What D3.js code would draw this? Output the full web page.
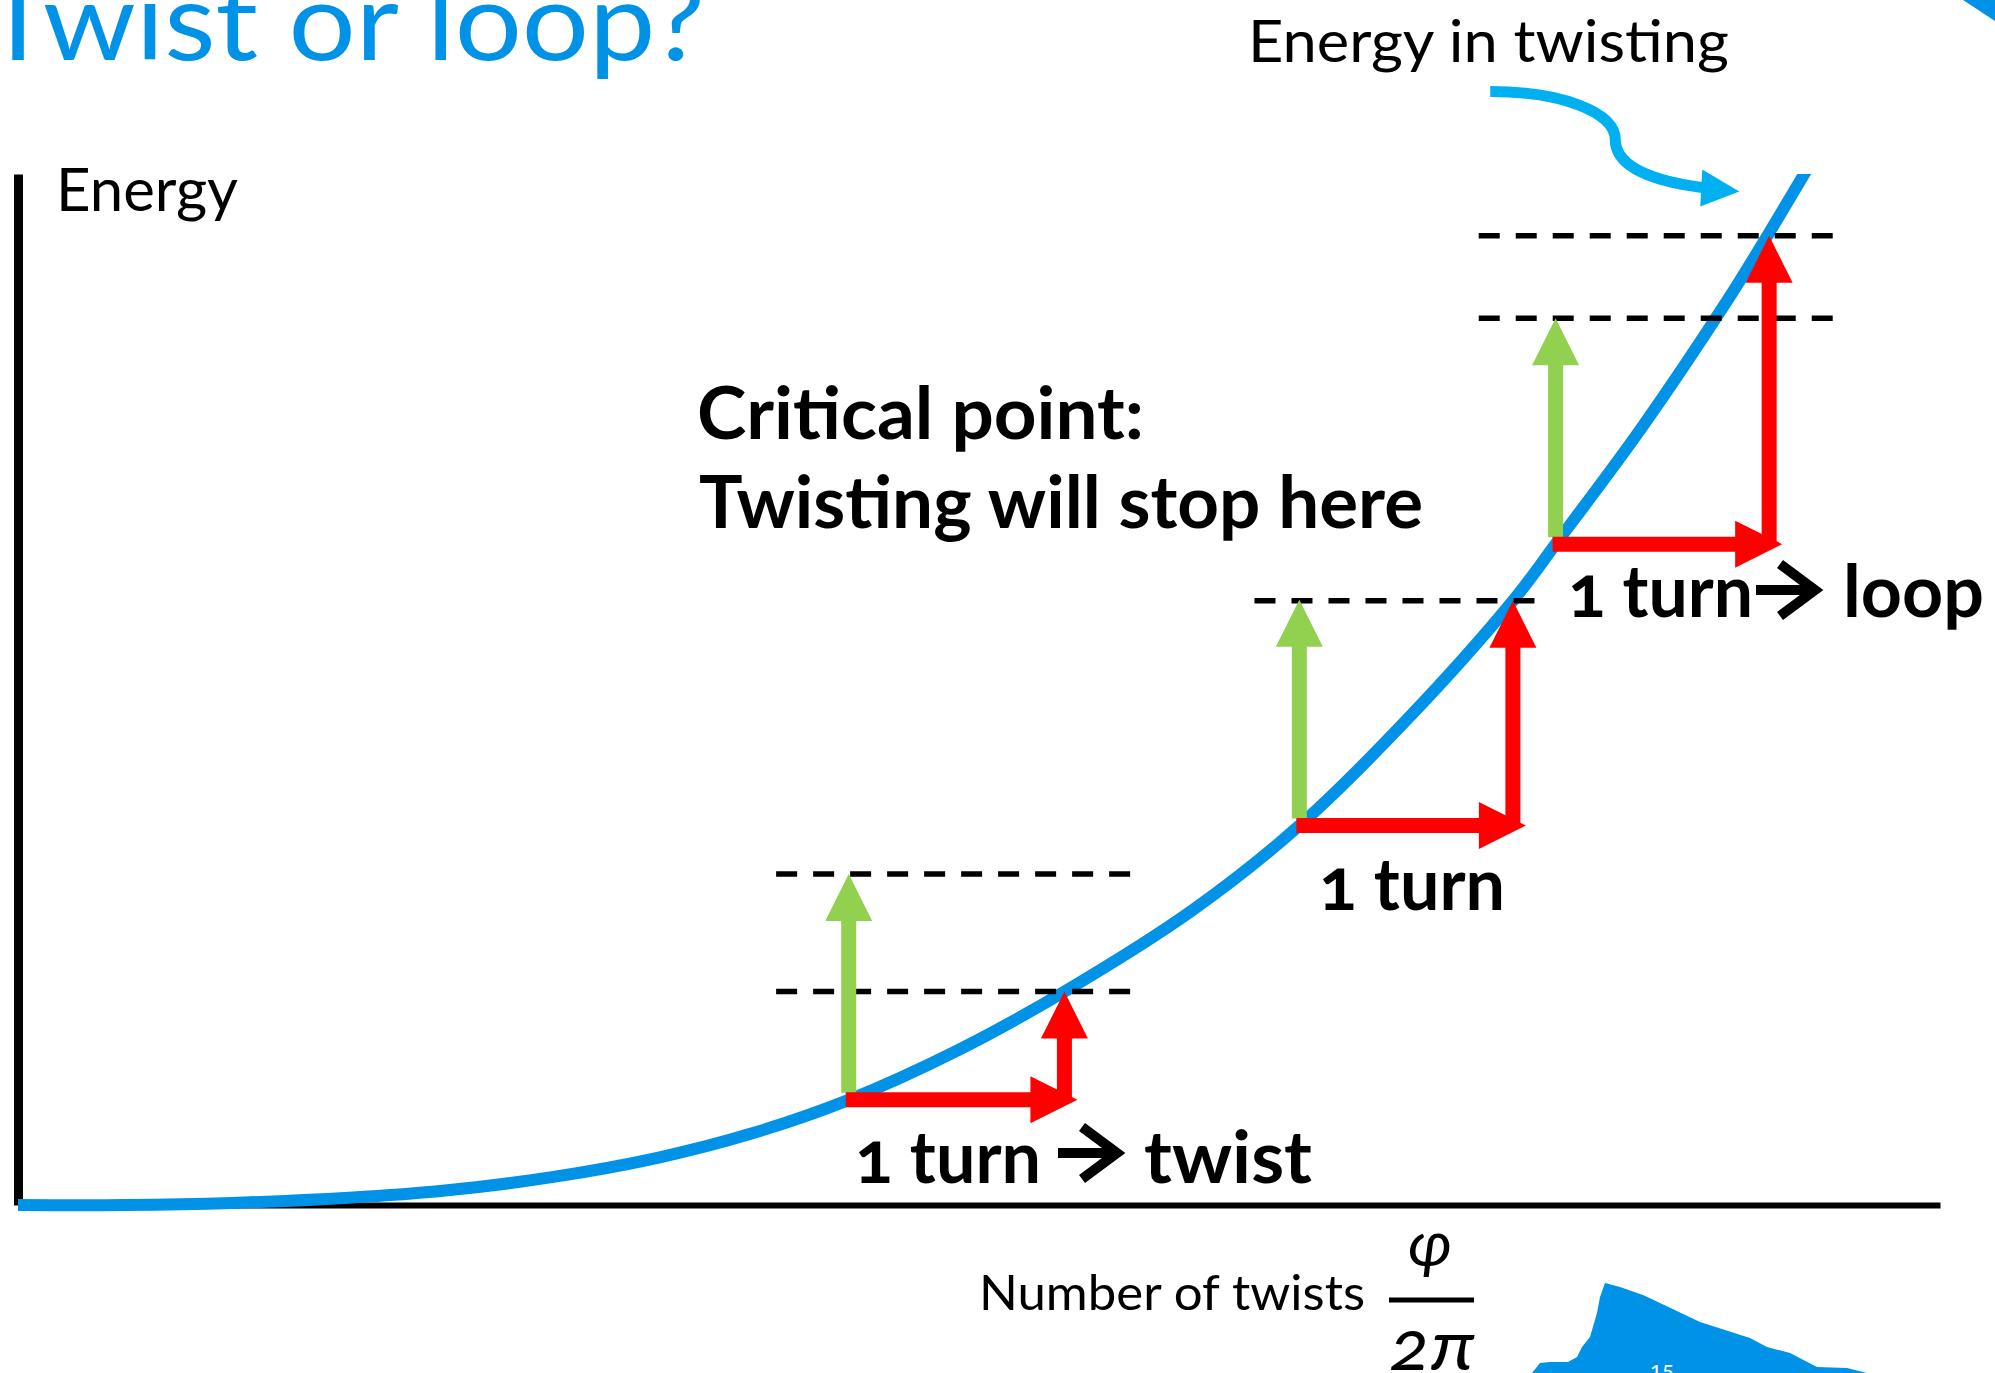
<!DOCTYPE html>
<html>
<head>
<meta charset="utf-8">
<script src="https://cdn.jsdelivr.net/npm/d3@7"></script>
<style>
  html, body { margin: 0; padding: 0; background: #fff; overflow: hidden; }
  svg { display: block; }
  text { font-family: Lato, "Open Sans", sans-serif; font-variant-numeric: oldstyle-nums; }
</style>
</head>
<body>
<svg id="chart" width="1995" height="1373"></svg>
<script>
// Twist energy against the number of turns put into the rod
const curveTurns  = [0, 0.5, 1, 1.55, 2, 2.5, 3, 3.43, 3.89, 4.4, 4.9, 5.5, 6, 6.5, 7, 7.2, 7.6, 8, 8.2, 8.45];
const curveEnergy = [0, 0.0, 0.02, 0.07, 0.14, 0.27, 0.46, 0.69, 1.02, 1.5, 2.07, 2.86, 3.68, 4.7, 5.86, 6.41, 7.53, 8.76, 9.43, 10.3];

// One extra turn taken at three places along the curve
const stepStart       = [3.89, 6, 7.2];
const stepEnd         = [4.9, 7, 8.2];
const stepEnergyStart = [1.02, 3.68, 6.41];
const stepEnergyEnd   = [2.07, 5.86, 9.4];
// Energy cost of forming a loop instead (same at every step)
const loopEnergy = 2.19;
// Horizontal extent of the dashed energy levels around each step
const guideFrom = [3.55, 5.79, 6.84];
const guideTo   = [5.21, 7.11, 8.51];

const xDomain = [0, 9];
const yDomain = [0, 10];

const W = 1995, H = 1373;
const svg = d3.select("#chart");

const x = d3.scaleLinear().domain(xDomain).range([18, 1940]);
const y = d3.scaleLinear().domain(yDomain).range([1205, 174]);

const BLUE = "#0092E6", RED = "#FF0000", GREEN = "#92D050", LIGHT = "#00B0F0";

// slide decoration
svg.append("path")
  .attr("d", "M1963,0 L1995,0 L1995,21 Z")
  .attr("fill", BLUE);
svg.append("path")
  .attr("d", "M1532,1373 L1540,1363 L1550,1362 L1568,1362 L1577,1357 L1582,1347 L1590,1337 L1597,1313 L1600,1297 L1605,1283 L1620,1287 L1643,1295 L1660,1303 L1700,1322 L1750,1338 L1767,1347 L1790,1353 L1817,1367 L1847,1368 L1867,1373 Z")
  .attr("fill", BLUE);
svg.append("text")
  .attr("x", 1650).attr("y", 1377)
  .attr("font-size", 22).attr("fill", "#fff")
  .text("15");

// title
svg.append("text")
  .attr("x", -17).attr("y", 60)
  .attr("font-size", 108).attr("fill", BLUE)
  .attr("textLength", 722).attr("lengthAdjust", "spacingAndGlyphs")
  .text("Twist or loop?");

// axes without ticks
const xAxis = svg.append("g")
  .attr("transform", `translate(0,${y(0)})`)
  .call(d3.axisBottom(x).tickValues([]).tickSizeOuter(0));
xAxis.select(".domain").attr("stroke", "#000").attr("stroke-width", 6);

const yAxis = svg.append("g")
  .attr("transform", `translate(${x(0)},0)`)
  .call(d3.axisLeft(y).tickValues([]).tickSizeOuter(0));
yAxis.select(".domain").attr("stroke", "#000").attr("stroke-width", 9);

svg.append("text")
  .attr("x", 56).attr("y", 211)
  .attr("font-size", 60).attr("fill", "#000")
  .attr("textLength", 182).attr("lengthAdjust", "spacingAndGlyphs")
  .text("Energy");

// x label with the fraction phi / 2pi
svg.append("text")
  .attr("x", 979).attr("y", 1310)
  .attr("font-size", 49).attr("fill", "#000")
  .attr("textLength", 386).attr("lengthAdjust", "spacingAndGlyphs")
  .text("Number of twists");
svg.append("line")
  .attr("x1", 1389).attr("x2", 1474).attr("y1", 1300).attr("y2", 1300)
  .attr("stroke", "#000").attr("stroke-width", 5);
svg.append("text")
  .attr("x", 1430).attr("y", 1266)
  .attr("text-anchor", "middle")
  .attr("font-family", "'Liberation Serif', 'DejaVu Serif', serif")
  .attr("font-style", "italic")
  .attr("font-size", 64).attr("fill", "#000")
  .text("φ");
svg.append("text")
  .attr("x", 1389).attr("y", 1370)
  .attr("font-family", "'Liberation Serif', 'DejaVu Serif', serif")
  .attr("font-style", "italic")
  .attr("font-size", 70).attr("fill", "#000")
  .attr("textLength", 86).attr("lengthAdjust", "spacingAndGlyphs")
  .text("2π");

// energy curve, clipped to the plot area
svg.append("clipPath").attr("id", "plotClip")
  .append("rect")
  .attr("x", 0).attr("y", y(yDomain[1]))
  .attr("width", W).attr("height", H);

const curveData = curveTurns.map((t, i) => ({ t, e: curveEnergy[i] }));
const line = d3.line()
  .x(d => x(d.t))
  .y(d => y(d.e))
  .curve(d3.curveCatmullRom.alpha(0.5));

svg.append("path")
  .datum(curveData)
  .attr("clip-path", "url(#plotClip)")
  .attr("d", line)
  .attr("fill", "none")
  .attr("stroke", BLUE)
  .attr("stroke-width", 12)
  .attr("stroke-linecap", "butt");

// dashed energy levels: after one turn of twist and after forming a loop
const guides = [];
stepStart.forEach((t0, i) => {
  const levels = [stepEnergyEnd[i], stepEnergyStart[i] + loopEnergy];
  const uniq = [];
  levels.forEach(l => { if (!uniq.some(u => Math.abs(u - l) < 0.05)) uniq.push(l); });
  uniq.forEach(l => guides.push({ from: guideFrom[i], to: guideTo[i], e: l }));
});
svg.append("g").selectAll("line")
  .data(guides)
  .join("line")
  .attr("x1", d => x(d.from)).attr("x2", d => x(d.to))
  .attr("y1", d => y(d.e)).attr("y2", d => y(d.e))
  .attr("stroke", "#000")
  .attr("stroke-width", 5.5)
  .attr("stroke-dasharray", "21,16");

// block arrow outline from (x1,y1) to tip (x2,y2)
function arrowPoints(x1, y1, x2, y2, sw = 15, hw = 47, hl = 47) {
  const dx = x2 - x1, dy = y2 - y1, L = Math.hypot(dx, dy);
  const ux = dx / L, uy = dy / L, nx = -uy, ny = ux;
  const bx = x2 - ux * hl, by = y2 - uy * hl;
  return [
    [x1 + nx * sw / 2, y1 + ny * sw / 2],
    [bx + nx * sw / 2, by + ny * sw / 2],
    [bx + nx * hw / 2, by + ny * hw / 2],
    [x2, y2],
    [bx - nx * hw / 2, by - ny * hw / 2],
    [bx - nx * sw / 2, by - ny * sw / 2],
    [x1 - nx * sw / 2, y1 - ny * sw / 2]
  ].map(p => p.join(",")).join(" ");
}

const steps = stepStart.map((t0, i) => ({
  t0, t1: stepEnd[i], e0: stepEnergyStart[i], e1: stepEnergyEnd[i]
}));
const arrows = svg.append("g");
// loop option: energy rises by the constant loop cost
arrows.selectAll("polygon.loop")
  .data(steps).join("polygon").attr("class", "loop")
  .attr("fill", GREEN)
  .attr("points", d => arrowPoints(x(d.t0), y(d.e0) - 7, x(d.t0), y(d.e0 + loopEnergy)));
// twist option: one more turn, then the energy climbs the curve
arrows.selectAll("polygon.rise")
  .data(steps).join("polygon").attr("class", "rise")
  .attr("fill", RED)
  .attr("points", d => arrowPoints(x(d.t1), y(d.e0), x(d.t1), y(d.e1)));
arrows.selectAll("polygon.turn")
  .data(steps).join("polygon").attr("class", "turn")
  .attr("fill", RED)
  .attr("points", d => arrowPoints(x(d.t0) - 3, y(d.e0), x(d.t1) + 13, y(d.e0)));

// "Energy in twisting" pointer
const tip = [x(8.06), y(9.83)];
const rel = (dx, dy) => `${tip[0] + dx},${tip[1] + dy}`;
svg.append("path")
  .attr("d", `M${rel(-249, -100)} C${rel(-179, -100)} ${rel(-124, -80)} ${rel(-124, -52)} C${rel(-124, -24)} ${rel(-84, -10)} ${rel(-37, -4)}`)
  .attr("fill", "none")
  .attr("stroke", LIGHT)
  .attr("stroke-width", 11);
svg.append("polygon")
  .attr("points", [rel(-37, -22), rel(0, 0), rel(-39, 15)].join(" "))
  .attr("fill", LIGHT);
svg.append("text")
  .attr("x", 1248).attr("y", 62)
  .attr("font-size", 58).attr("fill", "#000")
  .attr("textLength", 481).attr("lengthAdjust", "spacingAndGlyphs")
  .text("Energy in twisting");

// bold annotations
const bold = (sel) => sel.attr("font-weight", 700).attr("fill", "#000").attr("lengthAdjust", "spacingAndGlyphs");

bold(svg.append("text").attr("x", 697).attr("y", 439).attr("font-size", 72).attr("textLength", 447))
  .text("Critical point:");
bold(svg.append("text").attr("x", 699).attr("y", 528).attr("font-size", 72).attr("textLength", 724))
  .text("Twisting will stop here");

// chevron arrow glyph used inside the labels
function glyphArrow(x0, yc) {
  svg.append("path")
    .attr("d", `M${x0},${yc} H${x0 + 56} M${x0 + 24},${yc - 26} L${x0 + 59},${yc} L${x0 + 24},${yc + 26}`)
    .attr("fill", "none")
    .attr("stroke", "#000")
    .attr("stroke-width", 10)
    .attr("stroke-linejoin", "miter");
}

bold(svg.append("text").attr("x", 855).attr("y", 1183).attr("font-size", 72).attr("textLength", 186))
  .text("1 turn");
glyphArrow(1058, 1153);
bold(svg.append("text").attr("x", 1144).attr("y", 1183).attr("font-size", 72).attr("textLength", 168))
  .text("twist");

bold(svg.append("text").attr("x", 1319).attr("y", 910).attr("font-size", 72).attr("textLength", 186))
  .text("1 turn");

bold(svg.append("text").attr("x", 1568).attr("y", 617).attr("font-size", 72).attr("textLength", 185))
  .text("1 turn");
glyphArrow(1756, 590);
bold(svg.append("text").attr("x", 1843).attr("y", 617).attr("font-size", 72).attr("textLength", 141))
  .text("loop");
</script>
</body>
</html>
